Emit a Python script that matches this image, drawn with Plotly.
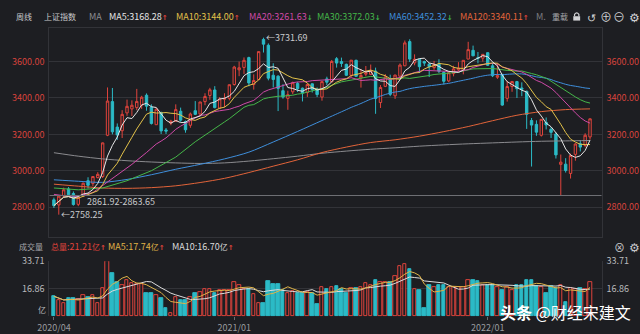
import numpy as np
import pandas as pd
import plotly.graph_objects as go

W, H = 640, 334

# ---- weekly data: 上证指数, 2020/04 - 2022/06 ----
opens = [2840, 2812, 2862, 2900, 2875, 2815, 2862, 2945, 2930, 2962,
         2968, 3195, 3380, 3240, 3220, 3318, 3340, 3348, 3360, 3415,
         3350, 3253, 3320, 3224, 3262, 3272, 3327, 3270, 3250, 3330,
         3312, 3380, 3414, 3444, 3344, 3393, 3398, 3474, 3555, 3568,
         3622, 3474, 3501, 3722, 3690, 3525, 3520, 3440, 3398, 3434,
         3480, 3454, 3430, 3478, 3449, 3405, 3505, 3489, 3616, 3600,
         3585, 3525, 3607, 3510, 3531, 3530, 3548, 3375, 3464, 3504,
         3412, 3520, 3577, 3710, 3593, 3613, 3600, 3586, 3567, 3586,
         3541, 3494, 3534, 3555, 3551, 3614, 3662, 3621, 3619, 3649,
         3577, 3514, 3530, 3398, 3463, 3490, 3455, 3437, 3276, 3255,
         3195, 3265, 3228, 3202, 3035, 3036, 2985, 3090, 3148, 3139,
         3186]
highs = [2852, 2862, 2907, 2910, 2886, 2858, 2935, 2964, 2970, 2992,
         3155, 3458, 3455, 3260, 3333, 3391, 3387, 3450, 3412, 3425,
         3365, 3346, 3325, 3235, 3280, 3365, 3347, 3276, 3320, 3383,
         3379, 3426, 3456, 3465, 3405, 3426, 3474, 3577, 3600, 3623,
         3627, 3530, 3655, 3731.69, 3700, 3591, 3525, 3476, 3440, 3490,
         3489, 3457, 3481, 3480, 3458, 3490, 3517, 3609, 3625, 3622,
         3589, 3608, 3611, 3560, 3576, 3584, 3567, 3471, 3531, 3528,
         3528, 3590, 3716, 3723, 3640, 3615, 3605, 3594, 3604, 3613,
         3546, 3541, 3577, 3597, 3608, 3709, 3688, 3653, 3640, 3651,
         3595, 3588, 3531, 3494, 3491, 3494, 3486, 3440, 3290, 3277,
         3283, 3293, 3240, 3211, 3089, 3069, 3094, 3151, 3167, 3206,
         3287]
lows = [2795, 2758.25, 2855, 2860, 2808, 2805, 2855, 2902, 2915, 2958,
        2960, 3190, 3200, 3170, 3180, 3302, 3301, 3333, 3340, 3330,
        3254, 3253, 3202, 3202, 3250, 3270, 3269, 3209, 3236, 3306,
        3307, 3360, 3390, 3343, 3341, 3349, 3387, 3468, 3520, 3532,
        3464, 3446, 3498, 3650, 3497, 3458, 3328, 3396, 3335, 3421,
        3433, 3381, 3406, 3430, 3405, 3385, 3470, 3486, 3567, 3571,
        3521, 3515, 3518, 3457, 3519, 3526, 3313, 3345, 3460, 3410,
        3395, 3506, 3575, 3598, 3580, 3537, 3576, 3515, 3555, 3537,
        3474, 3487, 3519, 3545, 3530, 3613, 3630, 3591, 3600, 3576,
        3515, 3505, 3357, 3380, 3434, 3400, 3410, 3230, 3023, 3192,
        3188, 3227, 3180, 3067, 2863.65, 2990, 2957, 3055, 3106, 3129,
        3171]
closes = [2808, 2860, 2895, 2868, 2814, 2852, 2931, 2920, 2968, 2980,
          3153, 3383, 3214, 3197, 3310, 3354, 3360, 3381, 3404, 3355,
          3260, 3338, 3219, 3218, 3272, 3336, 3278, 3225, 3312, 3310,
          3378, 3408, 3445, 3347, 3395, 3397, 3473, 3570, 3566, 3607,
          3483, 3496, 3655, 3696, 3509, 3502, 3453, 3405, 3418, 3484,
          3451, 3427, 3474, 3447, 3419, 3490, 3487, 3601, 3592, 3590,
          3525, 3608, 3519, 3524, 3539, 3550, 3397, 3458, 3516, 3420,
          3526, 3581, 3703, 3614, 3613, 3572.1, 3592, 3572, 3583, 3547,
          3492, 3539, 3560, 3564, 3607, 3666, 3632, 3618, 3640, 3580,
          3522.3, 3523, 3361, 3463, 3491, 3451, 3448, 3310, 3251, 3212,
          3282.6, 3252, 3211, 3087, 3047, 3001.6, 3084, 3147, 3130, 3195,
          3285.4]
volumes = [12.3, 9.9, 8.0, 10.9, 10.9, 10.5, 12.9, 11.9, 12.9, 8.0,
           17.0, 33.71, 26.3, 20.9, 18.9, 22.3, 20.3, 19.5, 19.9, 14.4,
           14.4, 13.0, 10.9, 5.0, 2.2, 12.0, 9.9, 9.9, 12.0, 14.4,
           14.9, 16.9, 16.9, 14.4, 15.9, 15.9, 15.9, 20.9, 18.9, 16.9,
           16.9, 13.5, 8.0, 8.0, 21.5, 19.5, 19.5, 15.9, 14.0, 15.5,
           14.5, 14.0, 15.0, 14.0, 7.5, 18.0, 16.4, 18.0, 18.5, 16.9,
           13.9, 17.4, 17.4, 17.9, 20.3, 19.3, 22.3, 20.9, 20.9, 20.9,
           24.3, 30.9, 31.9, 28.9, 16.9, 16.0, 5.0, 18.9, 17.9, 18.9,
           18.9, 17.9, 17.9, 17.9, 17.9, 22.0, 22.0, 21.5, 18.9, 18.9,
           18.9, 17.9, 15.9, 17.9, 15.9, 18.9, 18.9, 22.3, 22.3, 18.5,
           18.0, 14.5, 18.5, 17.5, 19.3, 8.5, 17.0, 16.5, 17.5, 16.5,
           21.21]

# tick labels along the time axis (week index -> label)
date_tick_weeks = [0, 37, 89]
date_tick_labels = ["2020/04", "2021/01", "2022/01"]

price_ticks = [2800, 3000, 3200, 3400, 3600]
vol_ticks = [16.86, 33.71]

# slow moving averages whose windows start before the first drawn week
ma20_head_weeks = [0, 4, 8, 12, 16]
ma20_head_vals = [2870, 2855, 2880, 2960, 3035]
ma30_head_weeks = [0, 5, 10, 15, 20, 25]
ma30_head_vals = [2905, 2895, 2905, 2945, 3000, 3075]
ma60_head_weeks = [0, 5, 10, 15, 20, 25, 30, 35, 40, 45, 50, 55]
ma60_head_vals = [2950, 2942, 2936, 2952, 2978, 3008, 3035, 3065, 3102, 3158, 3216, 3276]
slow_weeks = list(range(0, 111, 5))
ma120_vals = [2926, 2915, 2905, 2903, 2907, 2917, 2935, 2958, 2990, 3025, 3060, 3100,
              3130, 3155, 3170, 3190, 3215, 3243, 3275, 3305, 3325, 3336, 3340.11]
ma250_vals = [3099, 3080, 3065, 3055, 3048, 3043, 3040, 3043, 3053, 3066, 3080, 3096,
              3108, 3118, 3126, 3135, 3142, 3148, 3153, 3158, 3162, 3164, 3166]

# ---- colours ----
BG = "#1d1e22"
GRID = "#323338"
RED = "#e0443c"
CYAN = "#2bbac6"
AXRED = "#d8433d"
GREYTXT = "#9a9b9f"
C_MA5 = "#e6e6e6"
C_MA10 = "#e3c24a"
C_MA20 = "#cf4aa8"
C_MA30 = "#45b649"
C_MA60 = "#3f8fdc"
C_MA120 = "#e2643a"
C_MA250 = "#8b8b8f"
FONT = "Noto Sans CJK SC, Noto Sans, sans-serif"

weeks = np.arange(len(closes))
cs = pd.Series(closes, dtype=float)
vs = pd.Series(volumes, dtype=float)

ma5 = cs.rolling(5, min_periods=1).mean()
ma10 = cs.rolling(10, min_periods=1).mean()
ma20_full = cs.rolling(20).mean()
ma30_full = cs.rolling(30).mean()
ma60_full = cs.rolling(60).mean()
vma5 = vs.rolling(5, min_periods=1).mean()
vma10 = vs.rolling(10, min_periods=1).mean()


def joined(head_w, head_v, full, start):
    xs = list(head_w) + list(weeks[start:])
    ys = list(head_v) + list(full.iloc[start:])
    return xs, ys


fig = go.Figure()

fig.add_trace(go.Candlestick(
    x=weeks, open=opens, high=highs, low=lows, close=closes,
    increasing=dict(line=dict(color=RED, width=1), fillcolor=BG),
    decreasing=dict(line=dict(color=CYAN, width=1), fillcolor=CYAN),
    whiskerwidth=0, showlegend=False, hoverinfo="skip",
    xaxis="x", yaxis="y"))


def add_line(xs, ys, color, xa="x", ya="y", smooth=False):
    fig.add_trace(go.Scatter(
        x=xs, y=ys, mode="lines",
        line=dict(color=color, width=1, shape="spline" if smooth else "linear",
                  smoothing=0.8 if smooth else None),
        hoverinfo="skip", showlegend=False, xaxis=xa, yaxis=ya))


add_line(slow_weeks, ma250_vals, C_MA250, smooth=True)
add_line(slow_weeks, ma120_vals, C_MA120, smooth=True)
x60, y60 = joined(ma60_head_weeks, ma60_head_vals, ma60_full, 59)
add_line(x60, y60, C_MA60, smooth=True)
x30, y30 = joined(ma30_head_weeks, ma30_head_vals, ma30_full, 29)
add_line(x30, y30, C_MA30)
x20, y20 = joined(ma20_head_weeks, ma20_head_vals, ma20_full, 19)
add_line(x20, y20, C_MA20)
add_line(weeks, ma10, C_MA10)
add_line(weeks, ma5, C_MA5)

# companion traces so the right-hand axes are drawn
fig.add_trace(go.Scatter(x=weeks, y=closes, mode="lines", opacity=0,
                         hoverinfo="skip", showlegend=False, xaxis="x", yaxis="y3"))

# volume
up = [c >= o for o, c in zip(opens, closes)]
fig.add_trace(go.Bar(
    x=weeks, y=volumes, width=0.72,
    marker=dict(color=[BG if u else CYAN for u in up],
                line=dict(color=[RED if u else CYAN for u in up], width=1)),
    hoverinfo="skip", showlegend=False, xaxis="x2", yaxis="y2"))
add_line(weeks, vma10, "#dcdcdc", "x2", "y2")
add_line(weeks, vma5, "#e0b448", "x2", "y2")
fig.add_trace(go.Scatter(x=weeks, y=volumes, mode="lines", opacity=0,
                         hoverinfo="skip", showlegend=False, xaxis="x2", yaxis="y4"))

X0, X1 = 38, 601
x_range = [-0.95, 112.4]
dom_x = [X0 / W, X1 / W]
price_dom = [1 - 237 / H, 1 - 22 / H]
vol_dom = [1 - 319 / H, 1 - 262 / H]
price_range = [2636, 3783]

tickfont_red = dict(color=AXRED, size=9, family=FONT)
tickfont_grey = dict(color="#b9babd", size=9, family=FONT)
price_labels = [f"{v:.2f}" for v in price_ticks]
vol_labels = [f"{v:.2f}" for v in vol_ticks]

fig.update_layout(
    width=W, height=H, margin=dict(l=0, r=0, t=0, b=0),
    paper_bgcolor=BG, plot_bgcolor=BG, font=dict(family=FONT),
    showlegend=False, bargap=0,
    xaxis=dict(domain=dom_x, range=x_range, anchor="y", showticklabels=False,
               showgrid=False, zeroline=False, showline=True, mirror=True,
               linecolor=GRID, linewidth=1, rangeslider=dict(visible=False), fixedrange=True),
    yaxis=dict(domain=price_dom, range=price_range, tickvals=price_ticks, ticktext=price_labels,
               tickfont=tickfont_red, showgrid=True, gridcolor=GRID, zeroline=False,
               showline=True, linecolor=GRID, ticks="", ticklabelstandoff=2),
    yaxis3=dict(overlaying="y", side="right", matches="y", anchor="x", tickvals=price_ticks,
                ticktext=price_labels, tickfont=tickfont_red, showgrid=False, zeroline=False,
                showline=True, linecolor=GRID, ticks="", ticklabelstandoff=2),
    xaxis2=dict(domain=dom_x, range=x_range, anchor="y2", tickvals=date_tick_weeks,
                ticktext=date_tick_labels, tickfont=dict(color=GREYTXT, size=9, family=FONT),
                ticks="outside", ticklen=3, tickcolor="#6a6b70", showgrid=False,
                zeroline=False, showline=False),
    yaxis2=dict(domain=vol_dom, range=[0, 33.71], tickvals=vol_ticks, ticktext=vol_labels,
                tickfont=tickfont_grey, showgrid=True, gridcolor=GRID, zeroline=False,
                showline=True, linecolor=GRID, ticks="", ticklabelstandoff=2),
    yaxis4=dict(overlaying="y2", side="right", matches="y2", anchor="x2", tickvals=vol_ticks,
                ticktext=vol_labels, tickfont=tickfont_grey, showgrid=False, zeroline=False,
                showline=True, linecolor=GRID, ticks="", ticklabelstandoff=2),
)

# level line at the 2022 low
fig.add_shape(type="line", xref="x", yref="y", x0=x_range[0], x1=x_range[1],
              y0=2863.65, y1=2863.65, line=dict(color="#6e6f74", width=1))


def px(x):
    return x / W


def py(y):
    return 1 - y / H


def label(x, y, text, color, size=9, anchor="left", **kw):
    fig.add_annotation(xref="paper", yref="paper", x=px(x), y=py(y), text=text,
                       showarrow=False, xanchor=anchor, yanchor="middle", borderpad=0,
                       font=dict(color=color, size=size, family=FONT), **kw)


def arrow(up_):
    col = RED if up_ else "#3cb44a"
    ch = "↑" if up_ else "↓"
    return (f"<span style='font-family:DejaVu Sans;font-size:7px;"
            f"font-weight:bold;color:{col}'>{ch}</span>")


def cjk(t):
    return f"<span style='font-size:8px'>{t}</span>"


# header row
label(3, 10, cjk("周线"), "#c8c9cc")
label(32, 10, cjk("上证指数"), "#c8c9cc")
label(77, 10, "MA", "#8d8e92")
label(98, 10, f"MA5:{ma5.iloc[-1]:.2f}" + arrow(True), C_MA5)
label(166, 10, f"MA10:{ma10.iloc[-1]:.2f}" + arrow(True), C_MA10)
label(240, 10, f"MA20:{ma20_full.iloc[-1]:.2f}" + arrow(False), C_MA20)
label(310, 10, f"MA30:{ma30_full.iloc[-1]:.2f}" + arrow(False), C_MA30)
label(383, 10, f"MA60:{ma60_full.iloc[-1]:.2f}" + arrow(False), C_MA60)
label(456, 10, f"MA120:{ma120_vals[-1]:.2f}" + arrow(True), C_MA120)
label(533, 10, "M.", "#7d7e82")
label(549, 10, cjk("重载"), "#a5a6aa")
label(591, 10, "↺", "#d0d1d4", size=11, anchor="center")
label(605, 10, "⊕", "#d0d1d4", size=12, anchor="center")
label(619, 10, "⊖", "#d0d1d4", size=12, anchor="center")
label(634, 10, "⚙", "#d0d1d4", size=12, anchor="center")
# padlock icon
fig.add_shape(type="rect", xref="paper", yref="paper", x0=px(572), x1=px(579),
              y0=py(14), y1=py(9.5), fillcolor="#d0d1d4", line=dict(width=0))
fig.add_shape(type="path", xref="paper", yref="paper",
              path=f"M {px(573.3)} {py(9.5)} L {px(573.3)} {py(7.5)} Q {px(575.5)} {py(4.5)} {px(577.7)} {py(7.5)} L {px(577.7)} {py(9.5)}",
              line=dict(color="#d0d1d4", width=1.2))

# price annotations
fig.add_annotation(xref="x", yref="y", x=43, y=3731.69, text="←3731.69", showarrow=False,
                   xanchor="left", yanchor="middle", xshift=1,
                   font=dict(color="#c9cacd", size=9, family=FONT))
fig.add_annotation(xref="x", yref="y", x=1, y=2758.25, text="←2758.25", showarrow=False,
                   xanchor="left", yanchor="middle", xshift=0,
                   font=dict(color="#c9cacd", size=9, family=FONT))
label(75, 200.5, "2861.92-2863.65", "#c9cacd")

# volume header
label(6, 247, cjk("成交量"), "#a5a6aa")
label(39, 247, cjk("总量") + f":{volumes[-1]:.2f}" + cjk("亿") + arrow(True), RED)
label(97, 247, f"MA5:{vma5.iloc[-1]:.2f}" + cjk("亿") + arrow(True), "#e0b448")
label(162, 247, f"MA10:{vma10.iloc[-1]:.2f}" + cjk("亿") + arrow(True), "#dcdcdc")
label(619, 247, "⊗", "#c8c9cc", size=11, anchor="center")
label(634, 247, "⚙", "#c8c9cc", size=12, anchor="center")
label(36, 312, cjk("亿"), "#b9babd", anchor="right")

# watermark
label(496, 314, "<b>头条</b> @财经宋建文", "#ffffff", size=16)

fig.write_html("out.html")
